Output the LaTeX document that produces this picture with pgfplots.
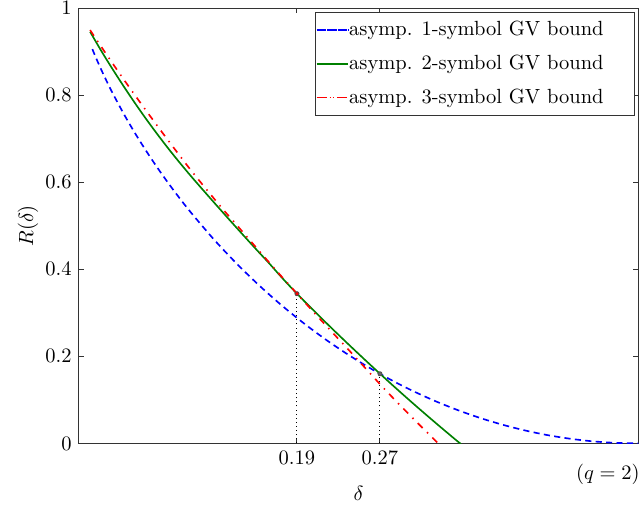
\documentclass[border=0pt]{standalone}
\usepackage{pgfplots}
\pgfplotsset{compat=1.18}
\definecolor{mgreen}{RGB}{0,128,0}
\begin{document}
\begin{tikzpicture}
\begin{axis}[
    width=272.8pt, height=212.2pt, scale only axis,
    xmin=0, xmax=0.5, ymin=0, ymax=1,
    xtick={0.1949,0.2691}, xticklabels={0.19,0.27},
    ytick={0,0.2,0.4,0.6,0.8,1},
    tick align=inside, major tick length=2.4pt,
    every tick/.style={black!80, line width=0.5pt},
    axis line style={black!80, line width=0.5pt},
    xlabel={$\delta$}, ylabel={$R(\delta)$},
    xlabel style={at={(axis description cs:0.5,-0.115)}, anchor=center},
    ylabel style={at={(axis description cs:-0.0913,0.5)}, anchor=center},
    legend cell align=left,
    legend style={at={(rel axis cs:1,1)}, xshift=-1.65pt, yshift=-1.65pt,
        anchor=north east, draw=black!80, line width=0.5pt,
        inner xsep=0pt, inner ysep=0.3pt,
        nodes={inner xsep=0pt, inner ysep=4pt}},
    legend image code/.code={
        \path (0pt,0pt) -- (15.5pt,0pt);
        \draw[#1] (1.66pt,0pt) -- (14.66pt,0pt);},
]
% asymp. 1-symbol GV bound
\addplot[blue, line width=0.8pt, dash pattern=on 3pt off 2.1pt, smooth] coordinates {
    (0.012,0.9062) (0.015,0.8876) (0.02,0.8586) (0.025,0.8313) (0.03,0.8056)
    (0.04,0.7577) (0.05,0.7136) (0.06,0.6726) (0.07,0.6341) (0.08,0.5978)
    (0.09,0.5635) (0.10,0.5310) (0.12,0.4706) (0.14,0.4158) (0.16,0.3657)
    (0.18,0.3199) (0.20,0.2781) (0.22,0.2398) (0.24,0.2050) (0.26,0.1733)
    (0.28,0.1445) (0.30,0.1187) (0.32,0.0956) (0.34,0.0752) (0.36,0.0573)
    (0.38,0.0420) (0.40,0.0290) (0.42,0.0185) (0.44,0.0104) (0.46,0.0046)
    (0.48,0.0012) (0.50,0)
};
\addlegendentry{asymp. 1-symbol GV bound\hspace{15pt}\mbox{}}
% asymp. 2-symbol GV bound
\addplot[mgreen, line width=0.8pt, smooth] coordinates {
    (0.01,0.946) (0.02,0.902) (0.03,0.8605) (0.04,0.8207) (0.05,0.7824)
    (0.06,0.7458) (0.07,0.7109) (0.08,0.6774) (0.09,0.6454) (0.10,0.6147)
    (0.11,0.5851) (0.12,0.5559) (0.13,0.5269) (0.14,0.4982) (0.15,0.4698)
    (0.16,0.4417) (0.17,0.4140) (0.18,0.3850) (0.19,0.3572) (0.20,0.3307)
    (0.21,0.3050) (0.22,0.2796) (0.23,0.2546) (0.24,0.2300) (0.25,0.2057)
    (0.26,0.1817) (0.27,0.1580) (0.28,0.1346) (0.29,0.1116) (0.30,0.0889)
    (0.31,0.0666) (0.32,0.0446) (0.33,0.0229) (0.34,0.0015) (0.3412,0)
};
\addlegendentry{asymp. 2-symbol GV bound\hspace{15pt}\mbox{}}
% asymp. 3-symbol GV bound
\addplot[red, line width=0.8pt, dash pattern=on 3.3pt off 3pt on 0.7pt off 3pt, smooth] coordinates {
    (0.01,0.950) (0.02,0.9115) (0.03,0.8737) (0.04,0.8367) (0.05,0.8005)
    (0.06,0.7651) (0.07,0.7301) (0.08,0.6956) (0.09,0.6616) (0.10,0.6281)
    (0.11,0.5963) (0.12,0.5650) (0.13,0.5342) (0.14,0.5050) (0.15,0.4752)
    (0.16,0.4456) (0.17,0.4160) (0.18,0.3868) (0.19,0.3584) (0.20,0.3295)
    (0.21,0.3012) (0.22,0.2732) (0.23,0.2455) (0.24,0.2180) (0.25,0.1900)
    (0.26,0.1618) (0.27,0.1336) (0.28,0.1065) (0.29,0.0800) (0.30,0.0540)
    (0.31,0.0283) (0.32,0.0030) (0.3212,0)
};
\addlegendentry{asymp. 3-symbol GV bound\hspace{15pt}\mbox{}}
% crossing points
\addplot[black, line width=0.5pt, dash pattern=on 0.5pt off 1.5pt, forget plot] coordinates {(0.1949,0) (0.1949,0.344)};
\addplot[black, line width=0.5pt, dash pattern=on 0.5pt off 1.5pt, forget plot] coordinates {(0.2691,0) (0.2691,0.160)};
\addplot[only marks, mark=*, mark size=1pt, draw=black!70, fill=red, forget plot] coordinates {(0.1949,0.344)};
\addplot[only marks, mark=*, mark size=1pt, draw=black!70, fill=black!60, forget plot] coordinates {(0.2691,0.160)};
\end{axis}
\node[anchor=north east, inner sep=0pt] at ([xshift=0.8pt,yshift=-9.75pt]current axis.south east) {$(q=2)$};
\pgfresetboundingbox
\path[use as bounding box] ([xshift=-38.5pt,yshift=-30.1pt]current axis.south west) rectangle ([xshift=2.3pt,yshift=4.05pt]current axis.north east);
\end{tikzpicture}
\end{document}
